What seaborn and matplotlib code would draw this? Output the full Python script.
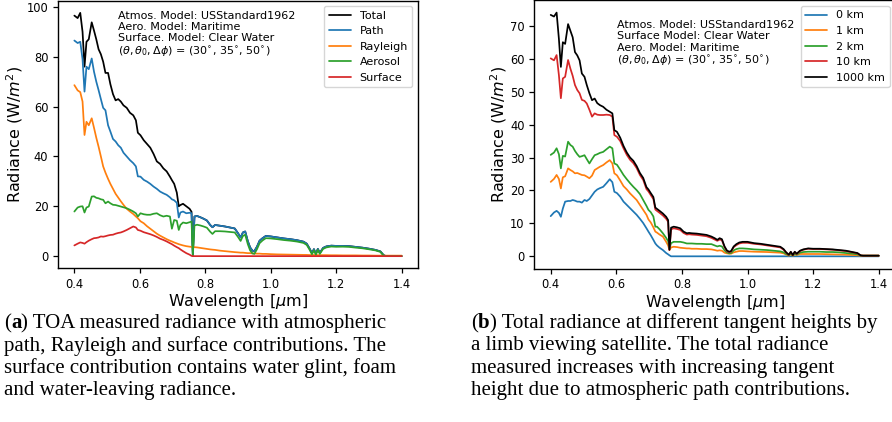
import matplotlib
matplotlib.use("Agg")
import matplotlib.pyplot as plt
import seaborn as sns

# ---------------- data ----------------
wavelength = [0.400, 0.410, 0.418, 0.425, 0.431, 0.437, 0.444, 0.453, 0.460, 0.467,
              0.474, 0.481, 0.488, 0.495, 0.503, 0.510, 0.518, 0.526, 0.534, 0.542,
              0.550, 0.560, 0.570, 0.580, 0.588, 0.594, 0.602, 0.612, 0.622, 0.632,
              0.642, 0.652, 0.662, 0.672, 0.682, 0.692, 0.698, 0.705, 0.713, 0.719,
              0.724, 0.732, 0.742, 0.752, 0.758, 0.762, 0.767, 0.775, 0.785, 0.795,
              0.805, 0.815, 0.822, 0.830, 0.845, 0.860, 0.875, 0.890, 0.900, 0.908,
              0.915, 0.922, 0.930, 0.937, 0.944, 0.950, 0.958, 0.966, 0.975, 0.985,
              1.000, 1.020, 1.040, 1.060, 1.080, 1.100, 1.110, 1.118, 1.126, 1.132,
              1.138, 1.144, 1.150, 1.160, 1.170, 1.185, 1.200, 1.220, 1.240, 1.260,
              1.280, 1.300, 1.320, 1.335, 1.345, 1.352, 1.370, 1.400]

# (a) TOA radiance contributions
total = [96.5, 95.5, 97.6, 90.0, 76.0, 86.0, 87.0, 93.8, 90.5, 87.0,
         83.0, 81.0, 78.0, 73.5, 73.5, 69.0, 65.0, 62.5, 63.0, 62.0,
         60.5, 59.5, 57.5, 56.5, 54.5, 49.5, 48.5, 46.5, 45.0, 43.5,
         41.0, 38.0, 37.0, 35.2, 34.0, 31.9, 30.5, 29.0, 25.5, 20.0,
         20.5, 21.0, 20.0, 19.0, 17.8, 0.5, 15.9, 16.1, 15.6, 15.0,
         14.3, 12.5, 11.6, 12.5, 12.2, 11.9, 11.5, 11.1, 9.2, 7.5,
         9.5, 9.9, 6.0, 3.5, 2.2, 2.0, 3.8, 6.2, 7.2, 8.1,
         7.9, 7.5, 7.1, 6.8, 6.4, 5.8, 5.0, 3.2, 1.2, 2.8,
         1.0, 2.9, 1.3, 3.3, 3.9, 4.2, 4.1, 4.1, 4.0, 3.7,
         3.4, 3.0, 2.5, 1.9, 0.4, 0.0, 0.0, 0.0]
path = [86.5, 85.5, 86.0, 79.0, 66.0, 76.0, 75.0, 79.3, 74.0, 70.0,
        66.6, 63.0, 59.5, 58.5, 52.5, 50.0, 47.0, 46.0, 44.5, 43.5,
        41.5, 40.0, 38.5, 37.3, 36.0, 32.0, 31.9, 30.6, 29.9, 29.0,
        27.9, 27.0, 25.9, 25.2, 24.6, 23.6, 22.8, 22.4, 21.4, 15.5,
        17.5, 17.9, 17.2, 17.4, 17.2, 0.2, 15.9, 16.1, 15.6, 15.0,
        14.3, 12.5, 11.6, 12.5, 12.2, 11.9, 11.5, 11.1, 9.2, 7.5,
        9.5, 9.9, 6.0, 3.5, 2.2, 2.0, 3.8, 6.2, 7.2, 8.1,
        7.9, 7.5, 7.1, 6.8, 6.4, 5.8, 5.0, 3.2, 1.2, 2.8,
        1.0, 2.9, 1.3, 3.3, 3.9, 4.2, 4.1, 4.1, 4.0, 3.7,
        3.4, 3.0, 2.5, 1.9, 0.4, 0.0, 0.0, 0.0]
rayleigh = [68.6, 66.5, 65.8, 62.0, 48.6, 53.9, 52.5, 55.3, 51.5, 47.5,
            43.9, 40.0, 36.0, 33.5, 31.0, 29.0, 27.0, 25.0, 23.5, 22.0,
            20.6, 19.0, 17.9, 16.9, 15.9, 15.2, 14.0, 13.2, 12.0, 11.0,
            10.0, 9.0, 8.2, 7.5, 6.8, 6.2, 5.9, 5.5, 5.1, 4.8,
            4.6, 4.3, 4.0, 3.8, 3.7, 3.6, 3.6, 3.5, 3.3, 3.1,
            2.9, 2.7, 2.6, 2.5, 2.2, 2.0, 1.8, 1.6, 1.5, 1.4,
            1.4, 1.3, 1.2, 1.2, 1.1, 1.1, 1.0, 1.0, 0.9, 0.9,
            0.8, 0.7, 0.65, 0.6, 0.55, 0.5, 0.5, 0.45, 0.45, 0.45,
            0.45, 0.4, 0.4, 0.4, 0.4, 0.35, 0.35, 0.3, 0.3, 0.3,
            0.25, 0.25, 0.2, 0.2, 0.2, 0.2, 0.2, 0.2]
aerosol = [17.9, 19.5, 19.9, 20.0, 17.5, 19.5, 19.9, 23.9, 24.0, 23.4,
           23.2, 22.8, 22.6, 21.2, 21.9, 21.2, 20.6, 20.5, 20.2, 19.9,
           19.6, 19.2, 18.6, 17.9, 17.2, 15.9, 17.2, 16.8, 16.6, 16.6,
           17.0, 17.2, 16.4, 15.9, 16.2, 15.9, 11.0, 14.5, 14.2, 10.5,
           12.5, 13.5, 13.2, 13.6, 13.9, 0.2, 12.3, 12.6, 12.3, 11.9,
           11.4, 9.8, 8.9, 10.0, 10.0, 9.9, 9.7, 9.5, 7.7, 6.1,
           8.1, 8.6, 4.8, 2.3, 1.1, 0.9, 2.8, 5.2, 6.3, 7.2,
           7.1, 6.8, 6.45, 6.2, 5.85, 5.3, 4.5, 2.75, 0.75, 2.35,
           0.55, 2.5, 0.9, 2.9, 3.5, 3.85, 3.75, 3.8, 3.7, 3.4,
           3.15, 2.75, 2.3, 1.7, 0.2, 0.0, 0.0, 0.0]
surface = [4.3, 5.0, 5.5, 5.3, 5.0, 5.6, 6.2, 6.8, 7.2, 7.3,
           7.5, 7.9, 7.8, 8.0, 8.3, 8.5, 8.6, 9.0, 9.3, 9.5,
           9.9, 10.5, 11.2, 11.9, 11.5, 10.5, 10.2, 9.6, 9.2, 8.8,
           8.3, 7.7, 7.0, 6.5, 5.9, 5.2, 4.8, 4.2, 3.6, 3.2,
           2.7, 2.0, 1.2, 0.6, 0.1, 0.0, 0.0, 0.0, 0.0, 0.0,
           0.0, 0.0, 0.0, 0.0, 0.0, 0.0, 0.0, 0.0, 0.0, 0.0,
           0.0, 0.0, 0.0, 0.0, 0.0, 0.0, 0.0, 0.0, 0.0, 0.0,
           0.0, 0.0, 0.0, 0.0, 0.0, 0.0, 0.0, 0.0, 0.0, 0.0,
           0.0, 0.0, 0.0, 0.0, 0.0, 0.0, 0.0, 0.0, 0.0, 0.0,
           0.0, 0.0, 0.0, 0.0, 0.0, 0.0, 0.0, 0.0]

# (b) total radiance at tangent heights
h0km = [12.2, 13.3, 13.8, 13.2, 12.0, 14.5, 16.6, 16.8, 16.8, 17.1,
        16.9, 16.6, 16.6, 16.3, 17.1, 16.8, 17.4, 18.5, 19.6, 20.3,
        20.7, 21.1, 22.2, 23.4, 22.5, 19.6, 19.2, 18.1, 16.6, 15.6,
        14.6, 13.6, 12.6, 11.4, 10.1, 8.5, 7.5, 6.4, 5.0, 3.9,
        3.3, 2.6, 1.9, 1.0, 0.6, 0.3, 0.0, 0.0, 0.0, 0.0,
        0.0, 0.0, 0.0, 0.0, 0.0, 0.0, 0.0, 0.0, 0.0, 0.0,
        0.0, 0.0, 0.0, 0.0, 0.0, 0.0, 0.0, 0.0, 0.0, 0.0,
        0.0, 0.0, 0.0, 0.0, 0.0, 0.0, 0.0, 0.0, 0.0, 0.0,
        0.0, 0.0, 0.0, 0.0, 0.0, 0.0, 0.0, 0.0, 0.0, 0.0,
        0.0, 0.0, 0.0, 0.0, 0.0, 0.0, 0.0, 0.0]
h1km = [22.6, 23.5, 24.7, 23.5, 20.6, 24.0, 24.3, 26.7, 26.2, 25.8,
        25.2, 25.3, 25.0, 24.7, 24.6, 24.2, 23.7, 24.5, 26.2, 26.7,
        27.2, 27.7, 28.5, 29.2, 28.2, 25.2, 24.6, 23.0, 21.3, 20.3,
        19.1, 18.1, 17.1, 15.6, 14.1, 12.6, 11.2, 10.3, 8.8, 7.5,
        7.2, 6.6, 6.0, 4.4, 3.3, 1.9, 2.7, 2.9, 2.8, 2.6,
        2.5, 2.4, 2.4, 2.3, 2.3, 2.2, 2.2, 2.1, 1.9, 1.7,
        1.8, 1.7, 1.1, 0.9, 0.8, 0.8, 1.2, 1.4, 1.6, 1.6,
        1.5, 1.4, 1.35, 1.3, 1.2, 1.1, 0.9, 0.5, 0.2, 0.6,
        0.2, 0.6, 0.4, 0.7, 0.7, 0.7, 0.7, 0.7, 0.65, 0.6,
        0.55, 0.5, 0.4, 0.3, 0.2, 0.2, 0.2, 0.2]
h2km = [30.8, 31.5, 32.8, 31.0, 26.7, 30.5, 30.3, 34.8, 33.8, 33.3,
        32.0, 31.0, 30.2, 30.4, 30.7, 29.5, 28.2, 29.5, 30.7, 31.0,
        31.4, 31.7, 32.5, 33.3, 32.8, 28.2, 27.8, 26.3, 24.7, 23.4,
        22.2, 21.1, 20.1, 18.9, 17.1, 15.3, 14.1, 13.4, 12.1, 9.0,
        9.0, 8.2, 7.0, 5.6, 4.6, 2.4, 4.0, 4.4, 4.4, 4.4,
        4.2, 3.9, 3.9, 3.9, 3.8, 3.8, 3.7, 3.7, 3.3, 3.0,
        3.2, 3.0, 1.8, 1.2, 0.9, 1.0, 1.8, 2.2, 2.4, 2.4,
        2.3, 2.1, 2.0, 1.9, 1.7, 1.5, 1.2, 0.7, 0.3, 0.8,
        0.2, 0.8, 0.5, 1.1, 1.3, 1.4, 1.4, 1.4, 1.3, 1.3,
        1.2, 1.0, 0.8, 0.6, 0.2, 0.2, 0.2, 0.2]
h10km = [60.1, 59.5, 61.1, 55.0, 48.0, 54.0, 54.5, 59.6, 57.0, 54.8,
         52.0, 50.5, 49.5, 47.5, 47.2, 46.4, 44.5, 42.4, 43.4, 43.0,
         42.9, 42.9, 43.0, 42.9, 42.4, 36.8, 36.3, 35.0, 32.8, 30.8,
         29.3, 28.3, 26.8, 24.7, 23.2, 20.4, 19.7, 18.6, 17.4, 14.2,
         13.8, 13.2, 12.4, 11.4, 10.5, 1.9, 8.2, 8.5, 8.3, 8.0,
         7.1, 6.6, 6.7, 6.6, 6.5, 6.3, 6.1, 5.6, 5.1, 4.7,
         5.1, 4.9, 2.8, 1.6, 1.2, 1.4, 2.8, 3.4, 3.9, 4.1,
         4.1, 3.8, 3.6, 3.3, 3.0, 2.7, 2.0, 1.1, 0.4, 1.3,
         0.3, 1.3, 0.7, 1.6, 2.0, 2.3, 2.2, 2.2, 2.1, 2.0,
         1.8, 1.6, 1.2, 0.9, 0.25, 0.2, 0.2, 0.2]
h1000km = [73.3, 72.8, 74.0, 66.0, 57.5, 65.0, 64.5, 70.5, 68.5, 66.5,
           62.0, 61.0, 59.5, 55.5, 54.5, 52.0, 49.5, 47.4, 47.9, 46.5,
           45.9, 45.4, 44.5, 43.9, 43.4, 38.3, 37.8, 36.0, 33.5, 31.5,
           30.0, 29.0, 27.4, 25.3, 23.8, 21.0, 20.3, 19.2, 18.0, 14.8,
           14.4, 13.8, 13.0, 12.0, 11.0, 2.0, 8.7, 9.0, 8.8, 8.5,
           7.5, 7.0, 7.1, 7.0, 6.9, 6.7, 6.5, 6.0, 5.5, 5.0,
           5.5, 5.2, 3.0, 1.8, 1.4, 1.6, 3.0, 3.7, 4.2, 4.4,
           4.4, 4.0, 3.8, 3.5, 3.2, 2.9, 2.2, 1.2, 0.5, 1.4,
           0.4, 1.4, 0.8, 1.7, 2.1, 2.4, 2.3, 2.3, 2.2, 2.1,
           1.9, 1.7, 1.3, 1.0, 0.3, 0.2, 0.2, 0.2]

labels_a = ["Total", "Path", "Rayleigh", "Aerosol", "Surface"]
labels_b = ["0 km", "1 km", "2 km", "10 km", "1000 km"]
x_ticks = [0.4, 0.6, 0.8, 1.0, 1.2, 1.4]

text_a = ("Atmos. Model: USStandard1962\nAero. Model: Maritime\n"
          "Surface. Model: Clear Water\n"
          r"$(\theta, \theta_0, \Delta\phi)$ = $(30^{\circ}$, $35^{\circ}$, $50^{\circ})$")
text_b = ("Atmos. Model: USStandard1962\nSurface Model: Clear Water\n"
          "Aero. Model: Maritime\n"
          r"$(\theta, \theta_0, \Delta\phi)$ = $(30^{\circ}$, $35^{\circ}$, $50^{\circ})$")

caption_a = ["a", ") TOA measured radiance with atmospheric",
             "path, Rayleigh and surface contributions. The",
             "surface contribution contains water glint, foam",
             "and water-leaving radiance."]
caption_b = ["b", ") Total radiance at different tangent heights by",
             "a limb viewing satellite. The total radiance",
             "measured increases with increasing tangent",
             "height due to atmospheric path contributions."]

# ---------------- style ----------------
sns.set_style("ticks")
plt.rcParams.update({
    "font.family": ["DejaVu Sans"],
    "axes.edgecolor": "black",
    "axes.linewidth": 1.0,
    "xtick.color": "black",
    "ytick.color": "black",
    "xtick.major.size": 3.5,
    "ytick.major.size": 3.5,
    "xtick.major.width": 0.9,
    "ytick.major.width": 0.9,
    "text.color": "black",
    "axes.labelcolor": "black",
    "mathtext.fontset": "dejavusans",
})

W, H = 892, 422
fig = plt.figure(figsize=(W / 100, H / 100), dpi=100)
fig.patch.set_facecolor("white")

ax1 = fig.add_axes([58 / W, (H - 268.3) / H, 360 / W, 267.6 / H])
ax2 = fig.add_axes([534.3 / W, (H - 268.5) / H, 360.8 / W, 268.1 / H])

colors_a = ["black", "#1f77b4", "#ff7f0e", "#2ca02c", "#d62728"]
series_a = [total, path, rayleigh, aerosol, surface]
for lab, col, ys in zip(labels_a, colors_a, series_a):
    sns.lineplot(x=wavelength, y=ys, color=col, label=lab, ax=ax1,
                 linewidth=1.25, estimator=None)

colors_b = ["#1f77b4", "#ff7f0e", "#2ca02c", "#d62728", "black"]
series_b = [h0km, h1km, h2km, h10km, h1000km]
for lab, col, ys in zip(labels_b, colors_b, series_b):
    sns.lineplot(x=wavelength, y=ys, color=col, label=lab, ax=ax2,
                 linewidth=1.25, estimator=None)

for ax, txt, tx, ty in [(ax1, text_a, 0.166, 0.962), (ax2, text_b, 0.228, 0.926)]:
    ax.set_xticks(x_ticks)
    ax.set_xticklabels([f"{v:.1f}" for v in x_ticks])
    ax.tick_params(labelsize=8.3)
    ax.set_xlabel(r"Wavelength [$\mu$m]", fontsize=11.5, labelpad=1)
    ax.set_ylabel(r"Radiance (W/$m^2$)", fontsize=11.5, labelpad=1)
    ax.text(tx, ty, txt, transform=ax.transAxes, fontsize=8, va="top",
            ha="left", linespacing=1.15)
    ax.legend(loc="upper right", fontsize=8, frameon=True, fancybox=True,
              framealpha=0.8, edgecolor="0.8", labelspacing=0.5)

ax1.set_yticks([0, 20, 40, 60, 80, 100])
ax2.set_yticks([0, 10, 20, 30, 40, 50, 60, 70])

# ---------------- captions ----------------
cap_font = dict(family=["Liberation Serif", "DejaVu Serif"], fontsize=15,
                color="black", va="center")
renderer = fig.canvas.get_renderer()
line_y = [323.5, 345.8, 368.1, 390.4]


def caption(x0, parts):
    y = 1 - line_y[0] / H
    t1 = fig.text(x0 / W, y, "(", **cap_font)
    bb = t1.get_window_extent(renderer)
    t2 = fig.text(bb.x1 / W, y, parts[0], weight="bold", **cap_font)
    bb = t2.get_window_extent(renderer)
    fig.text(bb.x1 / W, y, parts[1], **cap_font)
    for yy, line in zip(line_y[1:], parts[2:]):
        fig.text(x0 / W, 1 - yy / H, line, **cap_font)


caption(4, caption_a)
caption(471, caption_b)

fig.savefig("out.png", dpi=100, facecolor="white")
